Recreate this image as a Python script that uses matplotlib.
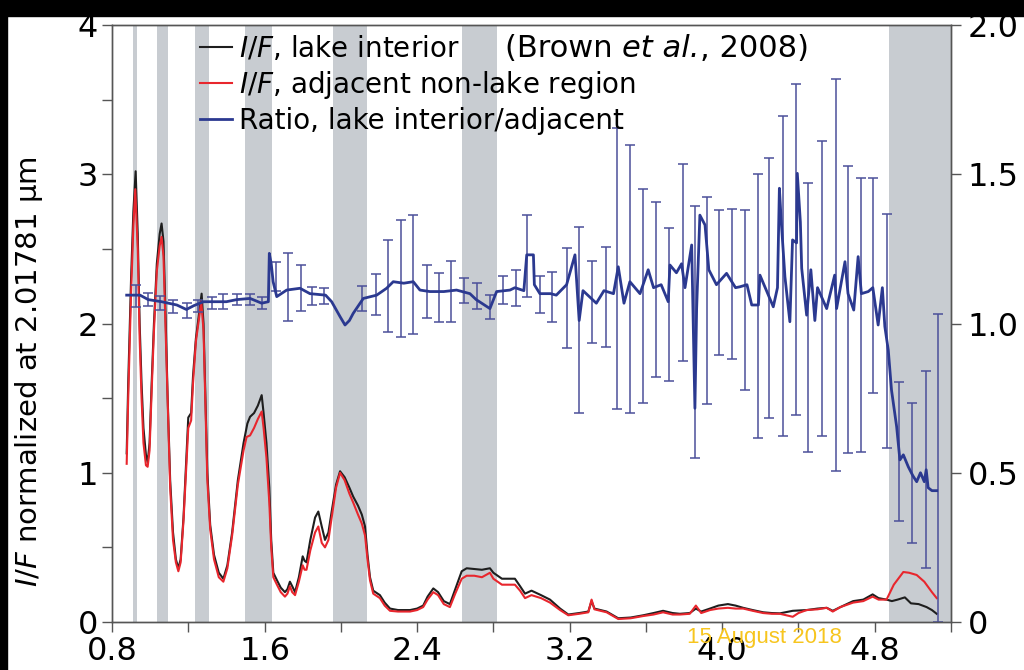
import matplotlib
matplotlib.use("Agg")
from matplotlib import pyplot as plt
from matplotlib.patches import Rectangle

plt.rcParams['font.family'] = ['DejaVu Sans']

# I/F, lake interior (black)
lake_x = [0.877, 0.885, 0.90, 0.912, 0.924, 0.935, 0.945, 0.955, 0.965, 0.978, 0.987, 0.997,
          1.008, 1.02, 1.035, 1.05, 1.06, 1.07, 1.08, 1.092, 1.105, 1.12, 1.135, 1.148, 1.16,
          1.175, 1.19, 1.2, 1.215, 1.225, 1.24, 1.255, 1.27, 1.28, 1.29, 1.30, 1.315, 1.335,
          1.36, 1.384, 1.405, 1.43, 1.46, 1.49, 1.51, 1.524, 1.545, 1.565, 1.585, 1.595, 1.61,
          1.625, 1.635, 1.646, 1.665, 1.685, 1.707, 1.72, 1.733, 1.745, 1.76, 1.78, 1.80, 1.81,
          1.82, 1.84, 1.865, 1.882, 1.90, 1.917, 1.935, 1.952, 1.975, 1.996, 2.02, 2.045, 2.065,
          2.09, 2.11, 2.127, 2.14, 2.153, 2.17, 2.205, 2.23, 2.258, 2.3, 2.363, 2.40, 2.432,
          2.455, 2.485, 2.51, 2.54, 2.572, 2.60, 2.634, 2.66, 2.70, 2.74, 2.782, 2.80, 2.845,
          2.913, 2.94, 2.966, 3.0, 3.05, 3.097, 3.15, 3.193, 3.25, 3.298, 3.315, 3.33, 3.394,
          3.455, 3.52, 3.586, 3.64, 3.69, 3.74, 3.778, 3.83, 3.862, 3.89, 3.936, 3.98, 4.03,
          4.07, 4.11, 4.16, 4.215, 4.26, 4.303, 4.37, 4.443, 4.50, 4.548, 4.58, 4.62, 4.687,
          4.74, 4.789, 4.82, 4.862, 4.89, 4.92, 4.958, 4.99, 5.03, 5.072, 5.1, 5.125]
lake_y = [1.13, 1.6, 2.3, 2.75, 3.02, 2.6, 2.0, 1.6, 1.3, 1.12, 1.07, 1.2,
          1.6, 2.0, 2.4, 2.6, 2.67, 2.55, 2.1, 1.5, 0.95, 0.6, 0.42, 0.36, 0.42,
          0.7, 1.1, 1.37, 1.40, 1.65, 1.9, 2.05, 2.2, 2.0, 1.5, 1.0, 0.65, 0.45,
          0.33, 0.29, 0.38, 0.6, 0.95, 1.2, 1.33, 1.375, 1.4, 1.45, 1.52, 1.4, 1.2,
          0.9, 0.55, 0.33, 0.28, 0.23, 0.2, 0.22, 0.27, 0.24, 0.2, 0.3, 0.44, 0.41,
          0.40, 0.55, 0.7, 0.74, 0.64, 0.55, 0.6, 0.74, 0.92, 1.01, 0.97, 0.9, 0.84,
          0.78, 0.72, 0.64, 0.45, 0.30, 0.21, 0.18, 0.13, 0.09, 0.08, 0.08, 0.09, 0.11,
          0.17, 0.225, 0.2, 0.14, 0.12, 0.22, 0.34, 0.36, 0.355, 0.35, 0.36, 0.33, 0.29,
          0.29, 0.24, 0.19, 0.21, 0.18, 0.15, 0.09, 0.05, 0.06, 0.07, 0.14, 0.09, 0.07,
          0.025, 0.03, 0.045, 0.06, 0.075, 0.06, 0.055, 0.06, 0.09, 0.07, 0.09, 0.11, 0.12,
          0.11, 0.095, 0.08, 0.065, 0.06, 0.058, 0.075, 0.08, 0.09, 0.095, 0.075, 0.10, 0.14,
          0.15, 0.185, 0.16, 0.15, 0.14, 0.15, 0.165, 0.125, 0.12, 0.10, 0.08, 0.055]

# I/F, adjacent non-lake region (red)
adj_x = [0.877, 0.885, 0.90, 0.912, 0.922, 0.935, 0.945, 0.955, 0.965, 0.978, 0.987, 0.997,
         1.008, 1.02, 1.035, 1.05, 1.06, 1.07, 1.08, 1.092, 1.105, 1.12, 1.135, 1.148, 1.16,
         1.175, 1.19, 1.2, 1.215, 1.225, 1.24, 1.255, 1.268, 1.28, 1.29, 1.30, 1.315, 1.335,
         1.36, 1.384, 1.405, 1.43, 1.46, 1.49, 1.506, 1.524, 1.545, 1.565, 1.585, 1.595, 1.61,
         1.625, 1.635, 1.646, 1.665, 1.685, 1.707, 1.72, 1.733, 1.745, 1.76, 1.78, 1.80, 1.81,
         1.82, 1.84, 1.865, 1.882, 1.90, 1.917, 1.935, 1.952, 1.975, 1.996, 2.02, 2.045, 2.065,
         2.09, 2.11, 2.127, 2.14, 2.153, 2.17, 2.205, 2.23, 2.258, 2.3, 2.363, 2.40, 2.432,
         2.455, 2.485, 2.51, 2.54, 2.572, 2.60, 2.634, 2.66, 2.70, 2.74, 2.782, 2.80, 2.845,
         2.913, 2.94, 2.966, 3.0, 3.05, 3.097, 3.15, 3.193, 3.25, 3.298, 3.315, 3.33, 3.394,
         3.455, 3.52, 3.586, 3.64, 3.69, 3.74, 3.778, 3.83, 3.862, 3.89, 3.936, 3.98, 4.03,
         4.07, 4.11, 4.16, 4.215, 4.26, 4.303, 4.37, 4.40, 4.443, 4.50, 4.548, 4.58, 4.62,
         4.687, 4.74, 4.789, 4.82, 4.862, 4.90, 4.95, 4.98, 5.02, 5.06, 5.1, 5.125]
adj_y = [1.06, 1.5, 2.2, 2.65, 2.9, 2.5, 1.9, 1.5, 1.2, 1.05, 1.04, 1.15,
         1.55, 1.95, 2.35, 2.52, 2.58, 2.45, 2.0, 1.45, 0.9, 0.55, 0.4, 0.34, 0.4,
         0.68, 1.05, 1.3, 1.35, 1.6, 1.88, 2.02, 2.15, 1.95, 1.45, 0.95, 0.62, 0.42,
         0.3, 0.27, 0.36, 0.58, 0.92, 1.15, 1.24, 1.25, 1.3, 1.36, 1.41, 1.3, 1.1,
         0.8, 0.5, 0.30, 0.25, 0.2, 0.17, 0.19, 0.24, 0.2, 0.18, 0.27, 0.38, 0.35,
         0.35, 0.48, 0.6, 0.64, 0.53, 0.50, 0.55, 0.7, 0.9, 1.00, 0.95, 0.86, 0.80,
         0.72, 0.66, 0.58, 0.42, 0.28, 0.19, 0.16, 0.11, 0.075, 0.07, 0.07, 0.08, 0.10,
         0.15, 0.20, 0.18, 0.12, 0.10, 0.19, 0.29, 0.31, 0.31, 0.30, 0.33, 0.29, 0.25,
         0.25, 0.21, 0.16, 0.18, 0.16, 0.13, 0.08, 0.045, 0.055, 0.065, 0.15, 0.085, 0.065,
         0.02, 0.025, 0.04, 0.05, 0.065, 0.05, 0.05, 0.055, 0.11, 0.06, 0.08, 0.09, 0.095,
         0.09, 0.09, 0.075, 0.06, 0.055, 0.055, 0.035, 0.06, 0.08, 0.085, 0.095, 0.07, 0.10,
         0.13, 0.14, 0.17, 0.15, 0.15, 0.25, 0.335, 0.33, 0.315, 0.27, 0.2, 0.16]

# Ratio, lake interior/adjacent (blue, right axis)
ratio_x = [0.877, 0.947, 0.99, 1.06, 1.14, 1.19, 1.23, 1.28, 1.40, 1.454, 1.524, 1.585, 1.62,
           1.625, 1.635, 1.645, 1.664, 1.716, 1.786, 1.838, 1.92, 1.952, 1.996, 2.022, 2.045,
           2.065, 2.118, 2.188, 2.24, 2.275, 2.33, 2.38, 2.415, 2.467, 2.54, 2.607, 2.677, 2.71,
           2.782, 2.817, 2.887, 2.913, 2.96, 2.975, 3.01, 3.015, 3.044, 3.10, 3.13, 3.184, 3.228,
           3.25, 3.27, 3.34, 3.38, 3.43, 3.455, 3.485, 3.516, 3.569, 3.612, 3.64, 3.68, 3.717,
           3.726, 3.76, 3.787, 3.805, 3.84, 3.857, 3.866, 3.883, 3.91, 3.93, 3.97, 4.023, 4.07,
           4.093, 4.13, 4.155, 4.19, 4.198, 4.268, 4.29, 4.30, 4.31, 4.329, 4.355, 4.369, 4.39,
           4.394, 4.41, 4.417, 4.443, 4.465, 4.486, 4.5, 4.548, 4.59, 4.6, 4.644, 4.66, 4.69,
           4.713, 4.73, 4.766, 4.79, 4.818, 4.84, 4.853, 4.871, 4.888, 4.915, 4.932, 4.95, 4.976,
           5.0, 5.02, 5.04, 5.06, 5.07, 5.08, 5.1, 5.125]
ratio_y = [1.095, 1.095, 1.08, 1.073, 1.062, 1.047, 1.06, 1.073, 1.073, 1.08, 1.084, 1.068, 1.073,
           1.235, 1.20, 1.14, 1.09, 1.112, 1.118, 1.10, 1.095, 1.073, 1.023, 0.995, 1.01,
           1.034, 1.084, 1.095, 1.118, 1.14, 1.135, 1.14, 1.112, 1.107, 1.107, 1.112, 1.10, 1.08,
           1.05, 1.107, 1.112, 1.12, 1.11, 1.23, 1.23, 1.13, 1.10, 1.10, 1.095, 1.13, 1.23,
           1.01, 1.11, 1.068, 1.11, 1.10, 1.19, 1.068, 1.14, 1.10, 1.18, 1.12, 1.13, 1.073,
           1.196, 1.17, 1.20, 1.12, 1.263, 0.716, 1.05, 1.363, 1.33, 1.18, 1.13, 1.168, 1.12,
           1.123, 1.13, 1.062, 1.062, 1.162, 1.056, 1.12, 1.453, 1.34, 1.157, 1.006, 1.28, 1.27,
           1.503, 1.34, 1.185, 1.028, 1.18, 1.01, 1.12, 1.05, 1.162, 1.05, 1.207, 1.10, 1.045,
           1.224, 1.10, 1.107, 1.12, 0.995, 1.12, 0.99, 0.911, 0.777, 0.654, 0.543, 0.56, 0.52,
           0.49, 0.47, 0.50, 0.47, 0.51, 0.45, 0.44, 0.44]

# error bars on the ratio (low / high ends)
err_x = [0.926, 0.99, 1.052, 1.121, 1.192, 1.253, 1.323, 1.384, 1.454, 1.524, 1.585, 1.658,
         1.724, 1.79, 1.847, 1.912, 2.112, 2.183, 2.246, 2.316, 2.38, 2.45, 2.516, 2.576,
         2.646, 2.712, 2.782, 2.852, 2.917, 2.978, 3.044, 3.109, 3.184, 3.25, 3.315, 3.389,
         3.45, 3.516, 3.586, 3.651, 3.721, 3.793, 3.857, 3.918, 3.983, 4.053, 4.119, 4.189,
         4.247, 4.32, 4.387, 4.451, 4.521, 4.595, 4.661, 4.726, 4.792, 4.862, 4.929, 4.997,
         5.068, 5.133]
err_hi = [1.129, 1.103, 1.092, 1.079, 1.07, 1.079, 1.09, 1.10, 1.10, 1.10, 1.09, 1.207,
          1.237, 1.196, 1.123, 1.118, 1.126, 1.165, 1.28, 1.347, 1.363, 1.196, 1.168, 1.209,
          1.151, 1.135, 1.095, 1.159, 1.18, 1.363, 1.159, 1.174, 1.252, 1.322, 1.209, 1.255,
          1.655, 1.598, 1.45, 1.408, 1.321, 1.534, 1.392, 1.425, 1.38, 1.384, 1.38, 1.50,
          1.556, 1.695, 1.802, 1.472, 1.612, 1.818, 1.528, 1.489, 1.486, 1.367, 0.803, 0.735,
          0.842, 1.031]
err_lo = [1.055, 1.059, 1.045, 1.034, 1.02, 1.04, 1.048, 1.05, 1.062, 1.062, 1.05, 1.11,
          1.009, 1.042, 1.062, 1.065, 1.043, 1.028, 0.973, 0.956, 0.965, 1.017, 1.006, 1.006,
          1.068, 1.05, 1.014, 1.065, 1.059, 1.09, 1.034, 1.006, 0.919, 0.701, 0.934, 0.922,
          0.714, 0.70, 0.735, 0.822, 0.808, 0.874, 0.55, 0.73, 0.894, 0.881, 0.777, 0.615,
          0.682, 0.623, 0.693, 0.571, 0.623, 0.507, 0.565, 0.571, 0.766, 0.584, 0.34, 0.264,
          0.18, 0.0]

# absorption bands shaded in grey
bands = [(0.909, 0.930), (1.038, 1.094), (1.237, 1.307), (1.499, 1.639),
         (1.957, 2.136), (2.635, 2.818), (4.874, 5.2)]

fig = plt.figure(figsize=(10.24, 6.7), dpi=100)
ax = fig.add_axes([112 / 1024, 48 / 670, 839 / 1024, 597 / 670])
ax2 = ax.twinx()

for b0, b1 in bands:
    ax.axvspan(b0, b1, color='#c8ccd1', lw=0, zorder=0)

l1, = ax.plot(lake_x, lake_y, color='#1e1e1e', lw=1.5, label=r'$\it{I/F}$, lake interior')
l2, = ax.plot(adj_x, adj_y, color='#e8262d', lw=1.5, label=r'$\it{I/F}$, adjacent non-lake region')

err_mid = [(lo + hi) / 2 for lo, hi in zip(err_lo, err_hi)]
err_half = [(hi - lo) / 2 for lo, hi in zip(err_lo, err_hi)]
ax2.errorbar(err_x, err_mid, yerr=err_half, fmt='none', ecolor='#4b509a', elinewidth=1.1,
             capsize=3.8, capthick=1.1)
l3, = ax2.plot(ratio_x, ratio_y, color='#2b3990', lw=2.0, label='Ratio, lake interior/adjacent')

ax.set_xlim(0.8, 5.2)
ax.set_ylim(0, 4)
ax2.set_ylim(0, 2.0)

ax.set_xticks([0.8, 1.6, 2.4, 3.2, 4.0, 4.8])
ax.set_xticklabels(['0.8', '1.6', '2.4', '3.2', '4.0', '4.8'])
ax.set_xticks([1.2, 2.0, 2.8, 3.6, 4.4, 5.2], minor=True)
ax.set_yticks([0, 1, 2, 3, 4])
ax.set_yticklabels(['0', '1', '2', '3', '4'])
ax.set_yticks([0.5, 1.5, 2.5, 3.5], minor=True)
ax2.set_yticks([0, 0.5, 1.0, 1.5, 2.0])
ax2.set_yticklabels(['0', '0.5', '1.0', '1.5', '2.0'])

for a in (ax, ax2):
    for s in a.spines.values():
        s.set_color('#555555')
        s.set_linewidth(1.0)
ax.tick_params(axis='both', which='both', direction='out', length=7, width=1, color='#555555',
               labelsize=23, pad=3)
ax2.tick_params(axis='y', direction='out', length=7, width=1, color='#555555',
                labelsize=23, pad=5)

ax.set_ylabel(r'$\it{I/F}$ normalized at 2.01781 μm', fontsize=21)
ax.yaxis.set_label_coords(-0.08, 0.42)

ax2.legend(handles=[l1, l2, l3], loc='upper left', bbox_to_anchor=(0.105, 0.985),
           frameon=False, fontsize=20, handlelength=1.15, handletextpad=0.25,
           labelspacing=0.22, borderpad=0, borderaxespad=0)

# header "(Brown et al., 2008)" built from pieces so the italics sit flush
t1 = ax2.text(0.468, 0.961, '(Brown ', transform=ax2.transAxes, fontsize=22,
              va='center', ha='left')
t2 = ax2.annotate('et al.', xy=(1, 0), xycoords=t1, va='bottom', ha='left',
                  fontsize=22, fontstyle='italic')
ax2.annotate(', 2008)', xy=(1, 0), xycoords=t2, va='bottom', ha='left', fontsize=22)

# black scan edges and date stamp
fig.patches.append(Rectangle((0, 1 - 16 / 670), 1, 16 / 670, transform=fig.transFigure,
                             color='black', zorder=-1))
fig.patches.append(Rectangle((0, 0), 7 / 1024, 1, transform=fig.transFigure,
                             color='black', zorder=-1))
fig.text(0.747, 0.049, '15 August 2018', color='#f7c51e', fontsize=16,
         family='Liberation Sans', ha='center', va='center')

fig.savefig('out.png', dpi=100)
